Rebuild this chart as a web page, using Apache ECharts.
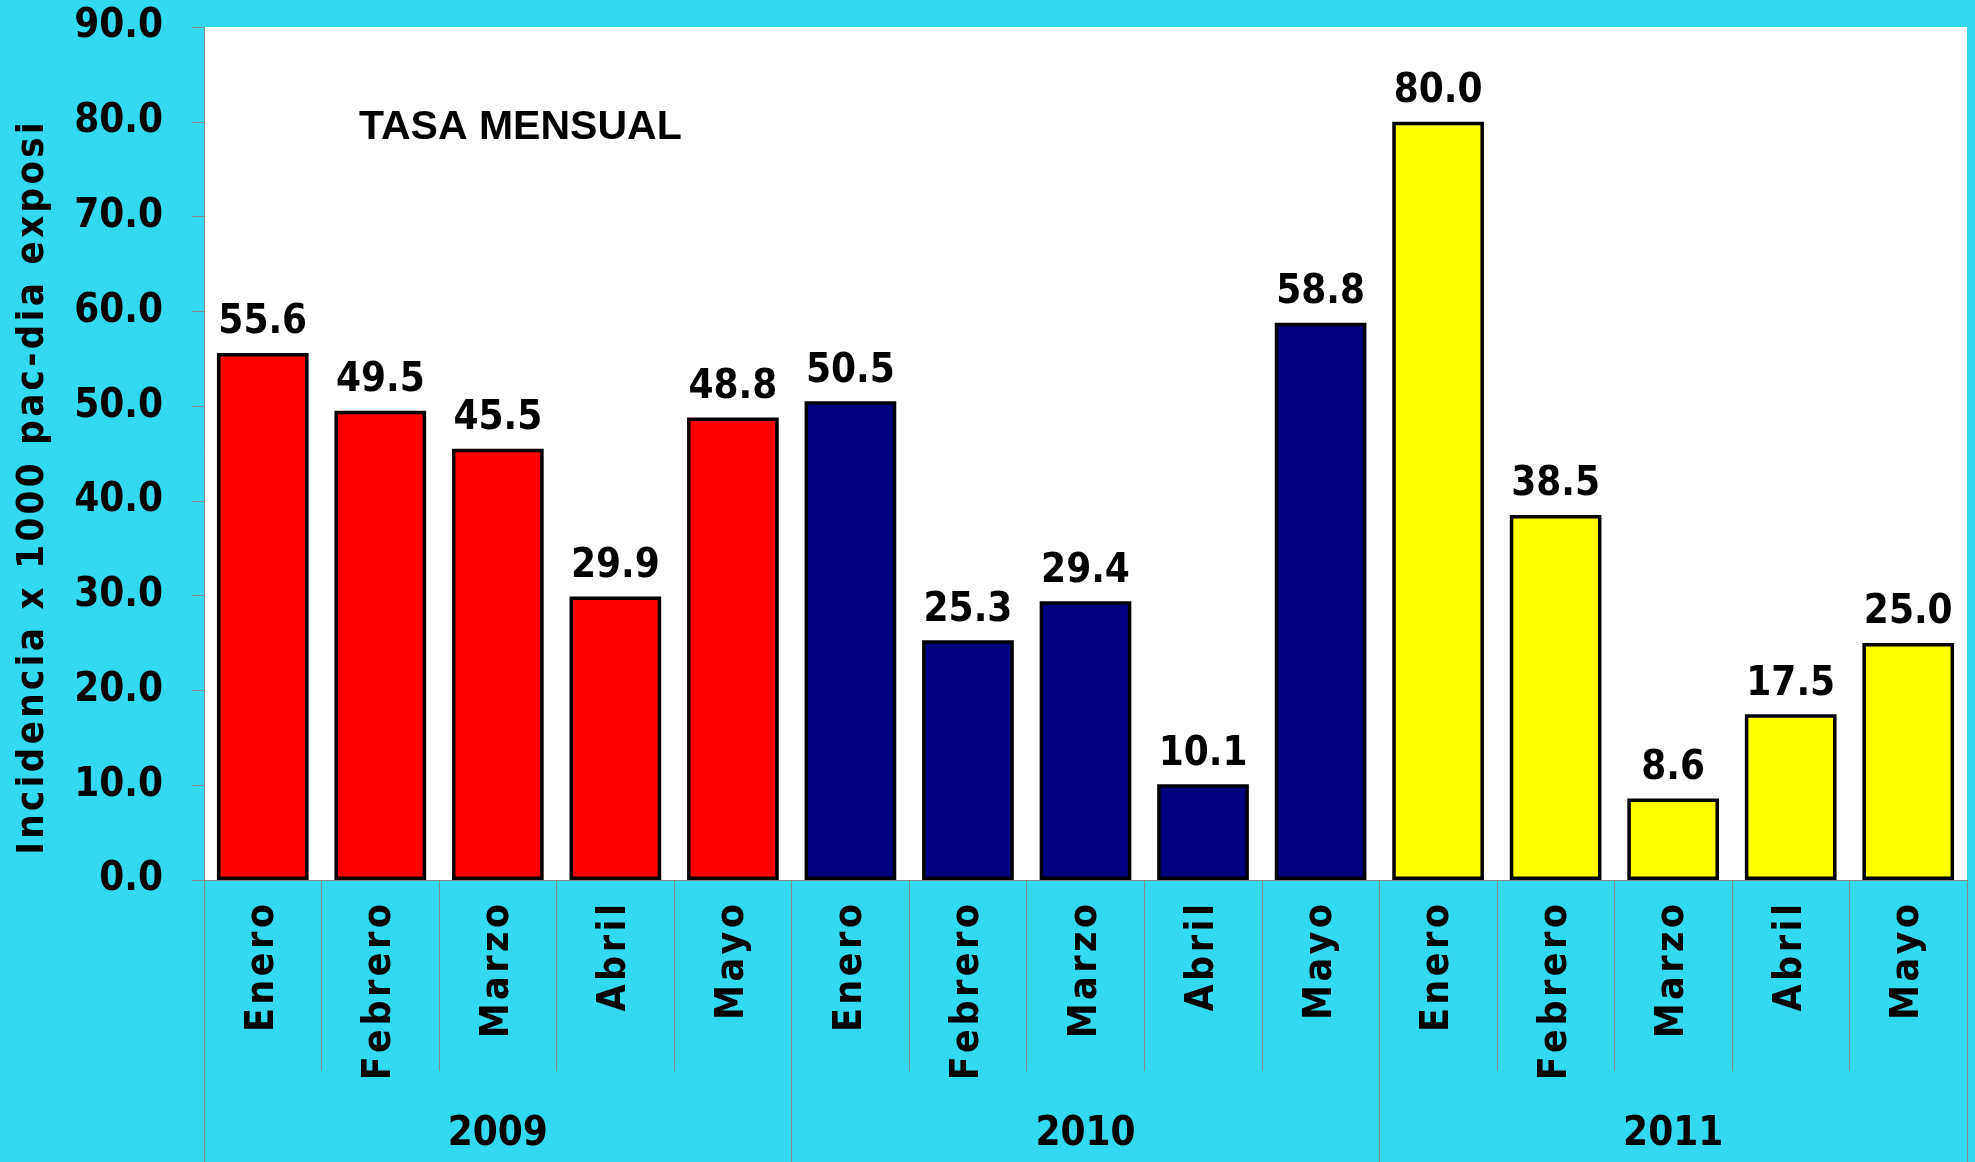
<!DOCTYPE html>
<html>
<head>
<meta charset="utf-8">
<title>Tasa mensual</title>
<script src="https://cdn.jsdelivr.net/npm/echarts@6/dist/echarts.min.js"></script>
<style>
  html, body { margin: 0; padding: 0; background: #33d9f0; }
  #main { width: 1975px; height: 1162px; }
</style>
</head>
<body>
<div id="main"></div>
<script>
// data
const months = ['Enero', 'Febrero', 'Marzo', 'Abril', 'Mayo',
                'Enero', 'Febrero', 'Marzo', 'Abril', 'Mayo',
                'Enero', 'Febrero', 'Marzo', 'Abril', 'Mayo'];
const years = ['2009', '2010', '2011'];
const rates = [55.6, 49.5, 45.5, 29.9, 48.8,
               50.5, 25.3, 29.4, 10.1, 58.8,
               80.0, 38.5, 8.6, 17.5, 25.0];
const yearColors = ['#ff0000', '#000080', '#ffff00'];
const yTicks = [0, 90, 10]; // min, max, interval
const yName = 'Incidencia x 1000 pac-dia exposi';
const chartTitle = 'TASA MENSUAL';

const numFont = '"DejaVu Sans Condensed", "DejaVu Sans", sans-serif';

// spread the letters a little, like the original
function spaced(s) {
  return s.split('').join('\u200A');
}

const chart = echarts.init(document.getElementById('main'));

const option = {
  backgroundColor: '#33d9f0',
  animation: false,
  title: {
    text: chartTitle,
    left: 354,
    top: 102,
    textStyle: {
      fontFamily: '"Liberation Sans", Arial, sans-serif',
      fontWeight: 'bold',
      fontSize: 41,
      color: '#000'
    }
  },
  grid: {
    left: 204,
    right: 8,
    top: 27,
    bottom: 282,
    outerBoundsMode: 'none',
    containLabel: false,
    show: true,
    backgroundColor: '#ffffff',
    borderWidth: 0
  },
  xAxis: [
    {
      type: 'category',
      data: months,
      position: 'bottom',
      axisLine: { show: true, lineStyle: { color: '#888', width: 1 } },
      axisTick: { show: true, interval: 0, length: 191, lineStyle: { color: '#888', width: 1 } },
      axisLabel: {
        interval: 0,
        rotate: 90,
        margin: 24,
        formatter: spaced,
        fontFamily: numFont,
        fontWeight: 'bold',
        fontSize: 39,
        color: '#000'
      },
      splitLine: { show: false }
    },
    {
      type: 'category',
      data: years,
      position: 'bottom',
      axisLine: { show: false },
      axisTick: { show: true, interval: 0, length: 282, lineStyle: { color: '#888', width: 1 } },
      axisLabel: {
        interval: 0,
        margin: 235,
        fontFamily: numFont,
        fontWeight: 'bold',
        fontSize: 40,
        color: '#000'
      },
      splitLine: { show: false }
    }
  ],
  yAxis: {
    type: 'value',
    min: yTicks[0],
    max: yTicks[1],
    interval: yTicks[2],
    name: spaced(yName),
    nameLocation: 'middle',
    nameGap: 152,
    nameTextStyle: {
      fontFamily: numFont,
      fontWeight: 'bold',
      fontSize: 38,
      color: '#000',
      padding: [0, 70, 0, 0]
    },
    axisLine: { show: true, lineStyle: { color: '#888', width: 1 } },
    axisTick: { show: true, length: 12, lineStyle: { color: '#888', width: 1 } },
    axisLabel: {
      margin: 41,
      formatter: v => v.toFixed(1),
      fontFamily: numFont,
      fontWeight: 'bold',
      fontSize: 40,
      color: '#000'
    },
    splitLine: { show: false }
  },
  series: [
    {
      type: 'bar',
      xAxisIndex: 0,
      barWidth: '78%',
      data: rates.map((v, i) => ({
        value: v,
        itemStyle: { color: yearColors[Math.floor(i / 5)] }
      })),
      itemStyle: { borderColor: '#000', borderWidth: 3.5 },
      label: {
        show: true,
        position: 'top',
        distance: 10,
        formatter: p => p.value.toFixed(1),
        fontFamily: numFont,
        fontWeight: 'bold',
        fontSize: 40,
        color: '#000'
      }
    }
  ]
};

chart.setOption(option);
</script>
</body>
</html>
